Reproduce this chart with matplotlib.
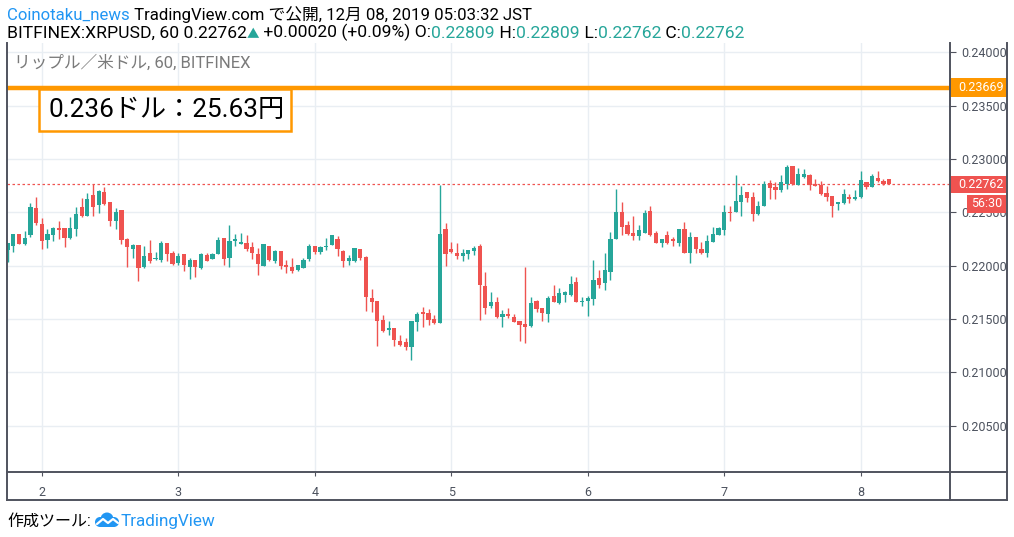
import matplotlib
matplotlib.use('Agg')
import matplotlib.pyplot as plt
import matplotlib.transforms as mtransforms
from matplotlib.patches import Rectangle, Circle
import numpy as np

plt.rcParams['font.family'] = ['Roboto', 'Noto Sans CJK JP', 'DejaVu Sans']

# hourly candles, Dec 1 18:00 -> Dec 8 05:00 (prices in 1e-5 USD)
opens = [22147, 22184, 22297, 22203, 22288, 22544, 22391, 22241, 22291, 22350, 22350, 22259, 22347, 22547, 22469, 22663,
         22572, 22691, 22597, 22422, 22522, 22250, 22159, 22191, 21991, 22116, 22059, 22055, 22212, 22118, 22027, 22109,
         21990, 22052, 21980, 22099, 22062, 22109, 22259, 22071, 22230, 22202, 22212, 22174, 22109, 21996, 22184, 22043,
         22137, 22005, 21987, 21959, 21981, 22065, 22184, 22128, 22175, 22194, 22250, 22137, 22047, 22047, 22156, 22081,
         21697, 21668, 21490, 21400, 21415, 21293, 21284, 21240, 21475, 21565, 21556, 21500, 21466, 22344, 22156, 22119,
         22091, 22109, 22137, 22184, 21809, 21625, 21659, 21522, 21547, 21519, 21481, 21453, 21437, 21669, 21603, 21550,
         21716, 21653, 21725, 21725, 21847, 21659, 21672, 21684, 21884, 21837, 21940, 22250, 22503, 22381, 22306, 22278,
         22306, 22512, 22306, 22212, 22287, 22250, 22212, 22344, 22119, 22269, 22156, 22119, 22222, 22287, 22334, 22503,
         22500, 22593, 22690, 22643, 22484, 22559, 22775, 22737, 22709, 22765, 22934, 22756, 22831, 22850, 22765, 22756,
         22681, 22653, 22578, 22587, 22643, 22625, 22643, 22784, 22737, 22821, 22793, 22809]
highs = [22216, 22297, 22297, 22325, 22588, 22647, 22447, 22347, 22359, 22422, 22350, 22453, 22547, 22631, 22678, 22763,
         22709, 22741, 22597, 22538, 22522, 22256, 22203, 22194, 22184, 22241, 22127, 22230, 22212, 22137, 22118, 22109,
         22071, 22052, 22118, 22118, 22118, 22268, 22259, 22380, 22296, 22305, 22287, 22221, 22165, 22202, 22184, 22146,
         22137, 22052, 22071, 22005, 22075, 22203, 22184, 22184, 22259, 22287, 22278, 22147, 22100, 22165, 22156, 22090,
         21781, 21668, 21537, 21481, 21415, 21350, 21318, 21481, 21568, 21615, 21593, 21537, 22756, 22400, 22222, 22212,
         22156, 22147, 22184, 22203, 21941, 21756, 21709, 21587, 21600, 21547, 21481, 21987, 21706, 21678, 21603, 21716,
         21819, 21791, 21762, 21903, 21894, 21706, 21716, 22056, 21959, 22118, 22315, 22719, 22597, 22419, 22466, 22381,
         22522, 22559, 22325, 22250, 22325, 22269, 22344, 22409, 22316, 22269, 22222, 22287, 22362, 22362, 22569, 22559,
         22850, 22746, 22690, 22690, 22606, 22793, 22803, 22784, 22850, 22943, 22934, 22915, 22906, 22859, 22812, 22793,
         22746, 22653, 22596, 22718, 22671, 22709, 22887, 22784, 22859, 22887, 22812, 22809]
lows = [22038, 22131, 22203, 22194, 22272, 22381, 22156, 22169, 22234, 22250, 22178, 22250, 22281, 22459, 22469, 22469,
        22497, 22572, 22375, 22344, 22200, 21991, 22069, 21859, 21975, 22028, 22052, 22037, 22043, 22005, 22005, 21952,
        21877, 21896, 21971, 22046, 22062, 22109, 22005, 21987, 22184, 22202, 22137, 22062, 21912, 21996, 22043, 22024,
        21968, 21930, 21930, 21950, 21981, 22047, 22112, 22112, 22147, 22194, 22090, 21990, 22006, 22037, 22056, 21578,
        21568, 21250, 21381, 21350, 21250, 21250, 21209, 21118, 21390, 21428, 21443, 21456, 21460, 22000, 22119, 22062,
        22044, 22062, 22100, 21491, 21550, 21606, 21512, 21428, 21512, 21475, 21297, 21278, 21428, 21569, 21484, 21475,
        21659, 21644, 21662, 21719, 21662, 21625, 21531, 21631, 21787, 21772, 21865, 22250, 22287, 22287, 22241, 22241,
        22306, 22278, 22212, 22175, 22203, 22184, 22184, 22119, 22025, 22119, 22109, 22081, 22222, 22287, 22287, 22419,
        22500, 22465, 22596, 22418, 22475, 22559, 22625, 22625, 22690, 22718, 22756, 22756, 22821, 22709, 22746, 22662,
        22606, 22456, 22521, 22578, 22587, 22615, 22634, 22718, 22737, 22784, 22756, 22762]
closes = [22216, 22297, 22203, 22259, 22553, 22397, 22234, 22297, 22350, 22334, 22259, 22350, 22484, 22469, 22625, 22553,
          22697, 22581, 22422, 22503, 22244, 22178, 22191, 21981, 22088, 22047, 22074, 22212, 22109, 22015, 22090, 22005,
          22052, 21987, 22109, 22046, 22109, 22240, 22062, 22230, 22249, 22221, 22155, 22118, 22015, 22202, 22052, 22137,
          21996, 21987, 21949, 22005, 22056, 22184, 22128, 22175, 22184, 22287, 22156, 22047, 22072, 22165, 22075, 21709,
          21662, 21484, 21390, 21412, 21306, 21259, 21240, 21481, 21547, 21550, 21493, 21465, 22297, 22109, 22128, 22091,
          22119, 22147, 22166, 21822, 21606, 21659, 21522, 21547, 21531, 21475, 21447, 21428, 21650, 21597, 21559, 21697,
          21659, 21744, 21753, 21828, 21662, 21669, 21697, 21865, 21818, 21959, 22250, 22503, 22362, 22297, 22278, 22334,
          22494, 22287, 22212, 22250, 22212, 22234, 22344, 22119, 22269, 22156, 22119, 22231, 22297, 22353, 22503, 22497,
          22606, 22662, 22634, 22484, 22559, 22765, 22728, 22709, 22784, 22925, 22765, 22859, 22859, 22756, 22746, 22671,
          22643, 22559, 22596, 22671, 22625, 22643, 22803, 22737, 22840, 22793, 22765, 22762]

day_labels = ['2', '3', '4', '5', '6', '7', '8']
first_day_index = 6          # candle of Dec 2 00:00
price_ticks = [0.205, 0.210, 0.215, 0.220, 0.225, 0.230, 0.235, 0.240]
level_price = 0.23669
last_price = 0.22762

UP, DOWN = '#26a69a', '#ef5350'
GRID, AXIS, TXT = '#e9eef3', '#50535e', '#4c525e'
ORANGE, BLUE = '#ff9800', '#2196f3'

W, H = 1014, 537
def fx(px):
    return px / W
def fy(py):
    return 1 - py / H

fig = plt.figure(figsize=(W / 100, H / 100), dpi=100)
ax = fig.add_axes([fx(7), fy(472.3), fx(950) - fx(7), fy(43) - fy(472.3)])

o = np.array(opens) / 1e5
h = np.array(highs) / 1e5
l = np.array(lows) / 1e5
c = np.array(closes) / 1e5
x = np.arange(len(o))
cols = np.where(c >= o, UP, DOWN)

ax.vlines(x, l, h, color=cols, linewidth=1, zorder=3)
body = np.maximum(np.abs(c - o), 0.000012)
ax.bar(x, body, bottom=np.minimum(o, c), width=0.74, color=cols, linewidth=0, zorder=4)

ax.set_xlim(-0.12, 165.7)
ax.set_ylim(0.20061, 0.24088)

ax.set_yticks(price_ticks)
ax.set_yticklabels([f'{v:.5f}' for v in price_ticks])
ax.yaxis.tick_right()
ax.set_xticks([first_day_index + 24 * k for k in range(len(day_labels))])
ax.set_xticklabels(day_labels)
ax.tick_params(axis='y', direction='out', length=4, pad=4, color=AXIS, labelcolor=TXT, labelsize=9)
ax.tick_params(axis='x', direction='out', length=3, pad=7, color=AXIS, labelcolor=TXT, labelsize=9)
ax.grid(color=GRID, linewidth=1)
ax.set_axisbelow(True)
for s in ['top', 'left', 'right', 'bottom']:
    ax.spines[s].set_visible(False)

# horizontal level and current price
ax.axhline(level_price, color=ORANGE, linewidth=3.2, zorder=5)
ax.axhline(last_price, color=DOWN, linewidth=0.9, linestyle=(0, (2, 2)), zorder=2)

# price axis labels
tr = mtransforms.blended_transform_factory(fig.transFigure, ax.transData)
def price_tag(y, x0, x1, hpx, text, color, tx):
    dh = hpx / 10660
    ax.add_patch(Rectangle((fx(x0), y - dh / 2), fx(x1) - fx(x0), dh, transform=tr,
                           facecolor=color, edgecolor='none', clip_on=False, zorder=10))
    ax.text(fx(tx), y, text, transform=tr, color='white', fontsize=9,
            va='center', ha='left', clip_on=False, zorder=11)

price_tag(level_price, 950, 1007, 19, f'{level_price:.5f}', ORANGE, 958)
price_tag(last_price, 950, 1007, 17, f'{last_price:.5f}', DOWN, 958)
price_tag(0.22578, 967, 1006, 18, '56:30', DOWN, 971)

# frame of the chart, drawn on a transparent overlay in pixel units
frame = fig.add_axes([0, 0, 1, 1], zorder=5)
frame.set_xlim(0, W)
frame.set_ylim(H, 0)
frame.axis('off')
frame.patch.set_alpha(0)
frame_lines = [([7, 7], [43, 500.3]), ([950.3, 950.3], [43, 500.3]), ([1007.3, 1007.3], [43, 500.3]),
               ([7, 1007.3], [472.3, 472.3]), ([7, 1007.3], [500.3, 500.3])]
for xs, ys in frame_lines:
    frame.plot(xs, ys, color=AXIS, linewidth=1.4, solid_capstyle='projecting')

# title inside chart
fig.text(fx(14), fy(63), 'リップル／米ドル, 60, BITFINEX', color='#7a7a7a', fontsize=12, va='center')

# annotation box
fig.add_artist(Rectangle((fx(38.5), fy(131)), fx(291) - fx(38.5), fy(88.5) - fy(131),
                         transform=fig.transFigure, facecolor='white', edgecolor=ORANGE, linewidth=1.8, zorder=6))
fig.text(fx(48), fy(110), '0.236ドル：25.63円', color='black', fontsize=18.8, va='center', zorder=7)

# header lines
def chain(parts, x0, y0, size):
    t = fig.text(fx(x0), fy(y0), parts[0][0], color=parts[0][1], fontsize=size, va='baseline')
    for s, col, *fs in parts[1:]:
        t = ax.annotate(s, xy=(1, 0), xycoords=t, va='bottom', ha='left', color=col,
                        fontsize=fs[0] if fs else size, annotation_clip=False)
    return t

chain([('Coinotaku_news', BLUE), (' TradingView.com で公開, 12月 08, 2019 05:03:32 JST', 'black')], 7, 20, 12.1)
chain([('BITFINEX:XRPUSD, 60 0.22762', 'black'), ('▲', UP, 9), (' +0.00020 (+0.09%) O:', 'black'),
       ('0.22809', UP), (' H:', 'black'), ('0.22809', UP), (' L:', 'black'), ('0.22762', UP),
       (' C:', 'black'), ('0.22762', UP)], 7, 38, 12.6)

# footer
fig.text(fx(7), fy(526), '作成ツール:', color='black', fontsize=11.5, va='baseline')
iax = fig.add_axes([fx(95), fy(528), fx(119) - fx(95), fy(512) - fy(528)])
iax.set_xlim(0, 24)
iax.set_ylim(0, 16)
iax.axis('off')
for cx, cy, r in [(5, 6, 5), (12, 9, 6.5), (19, 6, 5)]:
    iax.add_patch(Circle((cx, cy), r, color=BLUE, linewidth=0))
iax.add_patch(Rectangle((5, 1), 14, 5, color=BLUE, linewidth=0))
iax.plot([2, 8, 13, 18, 23], [4, 9, 5, 9, 5], color='white', linewidth=1.6, solid_capstyle='round')
fig.text(fx(121), fy(526), 'TradingView', color=BLUE, fontsize=12.3, va='baseline')

fig.savefig('out.png', dpi=100)
